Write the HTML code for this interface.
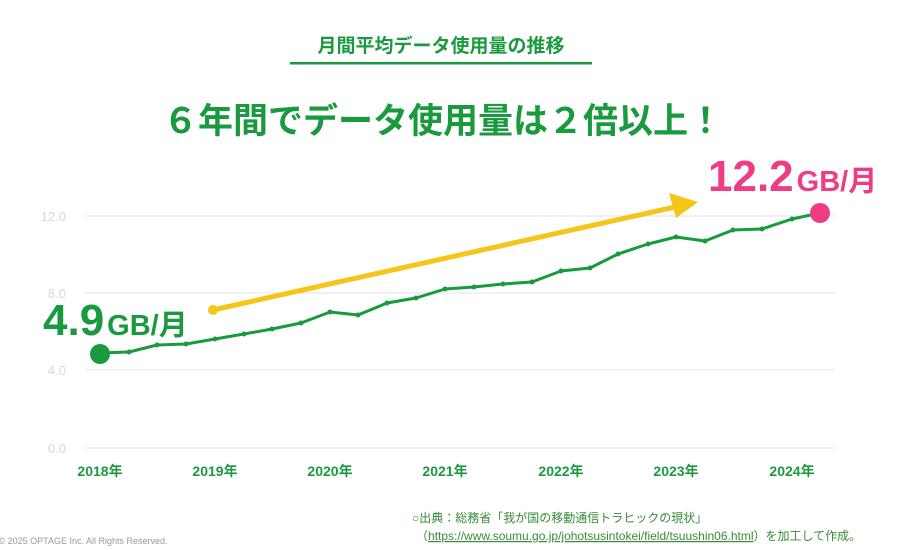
<!DOCTYPE html><html><head><meta charset="utf-8"><style>
body{margin:0;width:912px;height:550px;background:#fff;overflow:hidden;font-family:"Liberation Sans","Noto Sans CJK JP",sans-serif;}
</style></head><body>
<svg width="912" height="550" xmlns="http://www.w3.org/2000/svg" style="position:absolute;left:0;top:0;font-family:'Liberation Sans','Noto Sans CJK JP',sans-serif">
<text x="441" y="52" text-anchor="middle" font-size="19" font-weight="bold" fill="#1a9a3e">月間平均データ使用量の推移</text>
<rect x="290" y="62" width="302" height="2.5" fill="#1a9a3e"/>
<text x="443" y="133" text-anchor="middle" font-size="35" font-weight="bold" fill="#1a9a3e">６年間でデータ使用量は２倍以上！</text>
<g stroke="#e3e3e3" stroke-width="1">
<line x1="85" y1="216" x2="835" y2="216"/><line x1="85" y1="293" x2="835" y2="293"/><line x1="85" y1="370" x2="835" y2="370"/><line x1="85" y1="448" x2="835" y2="448"/></g>
<g font-size="13" fill="#d8d8d8" text-anchor="end">
<text x="66" y="221">12.0</text><text x="66" y="298">8.0</text><text x="66" y="375">4.0</text><text x="66" y="453">0.0</text></g>
<g font-size="14" font-weight="bold" fill="#1a9a3e" text-anchor="middle">
<text x="100" y="476">2018年</text><text x="215" y="476">2019年</text><text x="330" y="476">2020年</text><text x="445" y="476">2021年</text><text x="561" y="476">2022年</text><text x="676" y="476">2023年</text><text x="792" y="476">2024年</text></g>
<line x1="213" y1="310" x2="675" y2="207" stroke="#f5c518" stroke-width="5"/>
<polygon points="698,202 669,193 676,218" fill="#f5c518"/>
<circle cx="213" cy="310" r="5" fill="#f5c518"/>
<polyline fill="none" stroke="#1a9a3e" stroke-width="3" stroke-linejoin="round" points="100,353 129,352 157,345 186,344 215,339 244,334 272,329 301,323 330,312 358,315 387,303 416,298 445,289 474,287 503,284 532,282 561,271 590,268 618,254 648,244 676,237 705,241 733,230 762,229 792,219 820,213"/>
<g fill="#1a9a3e"><circle cx="129" cy="352" r="2.5"/><circle cx="157" cy="345" r="2.5"/><circle cx="186" cy="344" r="2.5"/><circle cx="215" cy="339" r="2.5"/><circle cx="244" cy="334" r="2.5"/><circle cx="272" cy="329" r="2.5"/><circle cx="301" cy="323" r="2.5"/><circle cx="330" cy="312" r="2.5"/><circle cx="358" cy="315" r="2.5"/><circle cx="387" cy="303" r="2.5"/><circle cx="416" cy="298" r="2.5"/><circle cx="445" cy="289" r="2.5"/><circle cx="474" cy="287" r="2.5"/><circle cx="503" cy="284" r="2.5"/><circle cx="532" cy="282" r="2.5"/><circle cx="561" cy="271" r="2.5"/><circle cx="590" cy="268" r="2.5"/><circle cx="618" cy="254" r="2.5"/><circle cx="648" cy="244" r="2.5"/><circle cx="676" cy="237" r="2.5"/><circle cx="705" cy="241" r="2.5"/><circle cx="733" cy="230" r="2.5"/><circle cx="762" cy="229" r="2.5"/><circle cx="792" cy="219" r="2.5"/></g>
<circle cx="100" cy="354" r="10" fill="#1a9a3e"/>
<circle cx="820" cy="213" r="10" fill="#ee3d84"/>
<text x="43" y="335" font-weight="bold" fill="#1a9a3e"><tspan font-size="44">4.9</tspan><tspan font-size="29" dx="3">GB/月</tspan></text>
<text x="708" y="191" font-weight="bold" fill="#ee3d84"><tspan font-size="44">12.2</tspan><tspan font-size="29" dx="3">GB/月</tspan></text>
<text x="412" y="522" font-size="12" fill="#3a8a3a">○出典：総務省「我が国の移動通信トラヒックの現状」</text>
<text x="416" y="540" font-size="12" fill="#3a8a3a">（<tspan text-decoration="underline">https://www.soumu.go.jp/johotsusintokei/field/tsuushin06.html</tspan>）を加工して作成。</text>
<text x="-4" y="544" font-size="9" fill="#999">t© 2025 OPTAGE Inc. All Rights Reserved.</text>
</svg>
</body></html>
